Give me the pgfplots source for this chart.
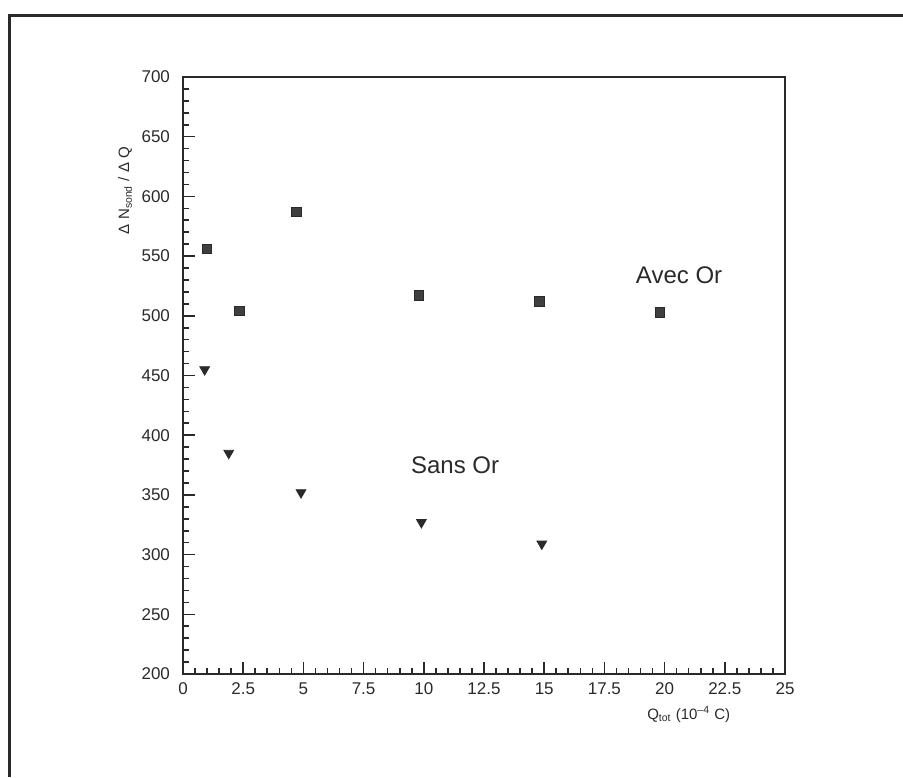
\documentclass[border=0pt]{standalone}
\usepackage{fontspec}
\setmainfont{Liberation Sans}
\usepackage{pgfplots}
\pgfplotsset{compat=1.18}
\definecolor{ink}{HTML}{2A2A2A}
\begin{document}
\begin{tikzpicture}[x=1pt,y=1pt]
\path[use as bounding box] (0,0) rectangle (451.5,388.5);
\draw[line width=1.5pt,ink] (4.5,0) -- (4.5,380.5) -- (451.5,380.5);
\begin{axis}[at={(91.5pt,51.5pt)}, anchor=south west, scale only axis,
  width=301pt, height=298.5pt,
  xmin=0, xmax=25, ymin=200, ymax=700,
  xtick={0,2.5,...,25}, ytick={200,250,...,700},
  minor x tick num=4, minor y tick num=4,
  tick pos=left, tick align=inside,
  major tick length=6pt, minor tick length=3pt,
  axis line style={line width=0.9pt, ink},
  every tick/.style={ink, line width=0.8pt},
  /pgf/number format/assume math mode=true,
  /pgf/number format/fixed,
  ticklabel style={font=\fontsize{8.5}{10}\selectfont, ink},
  yticklabel style={xshift=-3pt},
  xticklabel style={yshift=-1pt},
  xlabel={Q\textsubscript{tot} (10\textsuperscript{--4} C)},
  ylabel={Δ N\textsubscript{sond} / Δ Q},
  label style={font=\fontsize{7.5}{9}\selectfont, ink},
  xlabel style={at={(axis description cs:0.84,0)}, anchor=center, yshift=-20pt},
  ylabel style={at={(axis description cs:-0.096,0.81)}, anchor=center},
]
\addplot[only marks, mark=square*, mark size=2.4pt, ink, mark options={fill=ink!90}]
  coordinates {(1.0,556) (2.35,504) (4.7,587) (9.8,517) (14.8,512) (19.8,503)};
\addplot[only marks, mark=triangle*, mark size=2.8pt, ink, mark options={rotate=180, fill=ink}]
  coordinates {(0.9,455) (1.9,385) (4.9,352) (9.9,327) (14.9,309)};
\node[font=\fontsize{12}{14}\selectfont, ink] at (axis cs:20.6,534) {Avec Or};
\node[font=\fontsize{12}{14}\selectfont, ink] at (axis cs:11.3,375) {Sans Or};
\end{axis}
\end{tikzpicture}
\end{document}
